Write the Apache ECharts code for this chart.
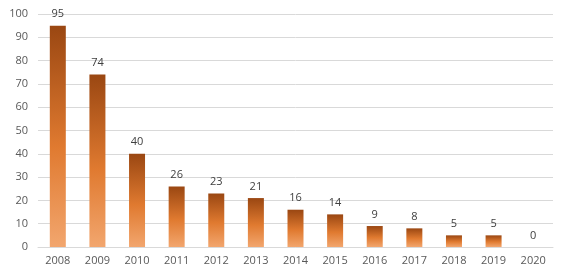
<!DOCTYPE html>
<html><head><meta charset="utf-8">
<script src="https://cdn.jsdelivr.net/npm/echarts@6/dist/echarts.min.js"></script>
<style>html,body{margin:0;padding:0;background:#fff}#c{width:567px;height:278px}</style>
</head><body><div id="c"></div>
<script>
const years = ['2008','2009','2010','2011','2012','2013','2014','2015','2016','2017','2018','2019','2020'];
const values = [95,74,40,26,23,21,16,14,9,8,5,5,0];
const yTicks = {min:0,max:100,interval:10};

const chart = echarts.init(document.getElementById('c'));
chart.setOption({
  animation:false,
  grid:{left:38,right:14,top:14,bottom:31},
  xAxis:{type:'category',data:years,
    axisLine:{lineStyle:{color:'#d9d9d9'}},axisTick:{show:false},
    axisLabel:{color:'#595959',fontSize:11,fontFamily:'Open Sans',margin:8}},
  yAxis:{type:'value',min:yTicks.min,max:yTicks.max,interval:yTicks.interval,
    axisLine:{show:false},axisTick:{show:false},
    splitLine:{lineStyle:{color:'#d9d9d9'}},
    axisLabel:{color:'#595959',fontSize:11,fontFamily:'Open Sans',margin:10}},
  series:[{type:'bar',data:values,barWidth:16,
    itemStyle:{color:new echarts.graphic.LinearGradient(0,0,0,1,[
      {offset:0,color:'#9a4712'},{offset:0.55,color:'#e07a30'},{offset:1,color:'#f2a66e'}])},
    label:{show:true,position:'top',distance:6,color:'#404040',fontSize:11,fontFamily:'Open Sans'}}]
});
</script></body></html>
